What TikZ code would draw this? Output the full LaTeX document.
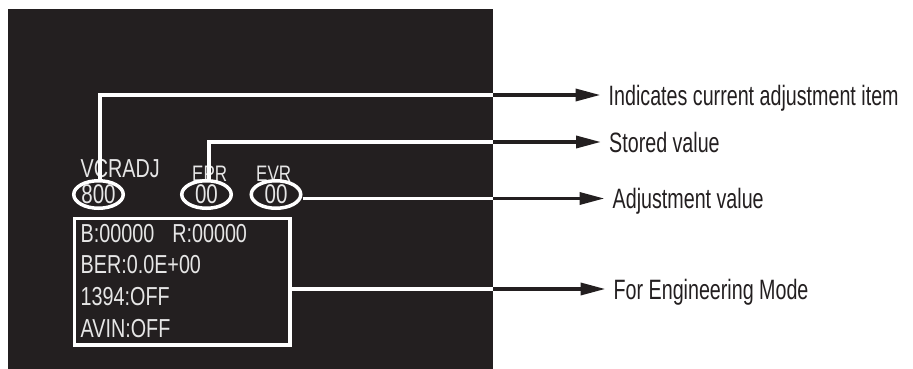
\documentclass[tikz,border=0pt]{standalone}
\usepackage{fontspec}
\newfontfamily\labelfont[FakeStretch=0.703]{Liberation Sans}
\newfontfamily\screenfont[FakeStretch=0.76]{Liberation Sans}
\usetikzlibrary{shapes.geometric,arrows.meta}
\definecolor{screenbg}{HTML}{231F20}
\definecolor{screentext}{HTML}{E6E6E6}
\begin{document}
\begin{tikzpicture}[x=1pt,y=-1pt,
  wire/.style={draw=white,line width=3.5pt},
  leader/.style={draw=screenbg,line width=3.5pt,-{Triangle[length=25pt,width=12pt]},shorten >=8pt},
  osd/.style={text=screentext,inner sep=0pt,anchor=base west,font=\screenfont\fontsize{26}{30}\selectfont},
  osdsmall/.style={osd,font=\screenfont\fontsize{22.4}{26}\selectfont},
  valring/.style={ellipse,draw=white,fill=screenbg,line width=3.5pt,minimum width=49.5pt,minimum height=27.5pt,inner sep=0pt,text=screentext,font=\screenfont\fontsize{27}{30}\selectfont},
  callout/.style={text=screenbg,inner sep=0pt,anchor=base west,font=\labelfont\fontsize{28}{32}\selectfont}
]
\useasboundingbox (0,0) rectangle (913,369);

% monitor screen
\fill[screenbg] (8,9) rectangle (493,369);

% item titles
\node[osd] (vcr) at (80.5,177.5) {VCRADJ};
\node[osdsmall] (epr) at (192,181) {EPR};
\node[osdsmall] (evr) at (256,181) {EVR};

% value rings
\node[valring] (e800) at (98.5,194.5) {800};
\node[valring] (eepr) at (206.5,194.5) {00};
\node[valring] (eevr) at (276,194.5) {00};

% engineering panel
\node[draw=white,line width=3.5pt,minimum width=215.5pt,minimum height=126.5pt,inner sep=0pt,anchor=north west] (panel) at (72.75,216.75) {};
\node[osd] (row1) at (80.5,242) {B:00000\hspace{18pt}R:00000};
\node[osd] (row2) at (80.5,273) {BER:0.0E+00};
\node[osd] (row3) at (80.5,305) {1394:OFF};
\node[osd] (row4) at (80.5,337.5) {AVIN:OFF};

% callout texts
\node[callout] (lab1) at (608.5,106) {Indicates current adjustment item};
\node[callout] (lab2) at (609,152) {Stored value};
\node[callout] (lab3) at (612.5,208) {Adjustment value};
\node[callout] (lab4) at (613.5,299) {For Engineering Mode};

% screen edge crossings
\coordinate (c1) at (493,95);
\coordinate (c2) at (493,142);
\coordinate (c3) at (493,198.5);
\coordinate (c4) at (493,289);

% leaders inside the screen
\draw[wire] ([xshift=1.5pt]e800.north) |- (c1);
\draw[wire] ([xshift=2.5pt]eepr.north) |- (c2);
\draw[wire] (eevr.east |- c3) -- (c3);
\draw[wire] (panel.east |- c4) -- (c4);

% arrows outside the screen
\draw[leader] (c1) -- (c1 -| lab1.west);
\draw[leader] (c2) -- (c2 -| lab2.west);
\draw[leader] (c3) -- (c3 -| lab3.west);
\draw[leader] (c4) -- (c4 -| lab4.west);
\end{tikzpicture}
\end{document}
